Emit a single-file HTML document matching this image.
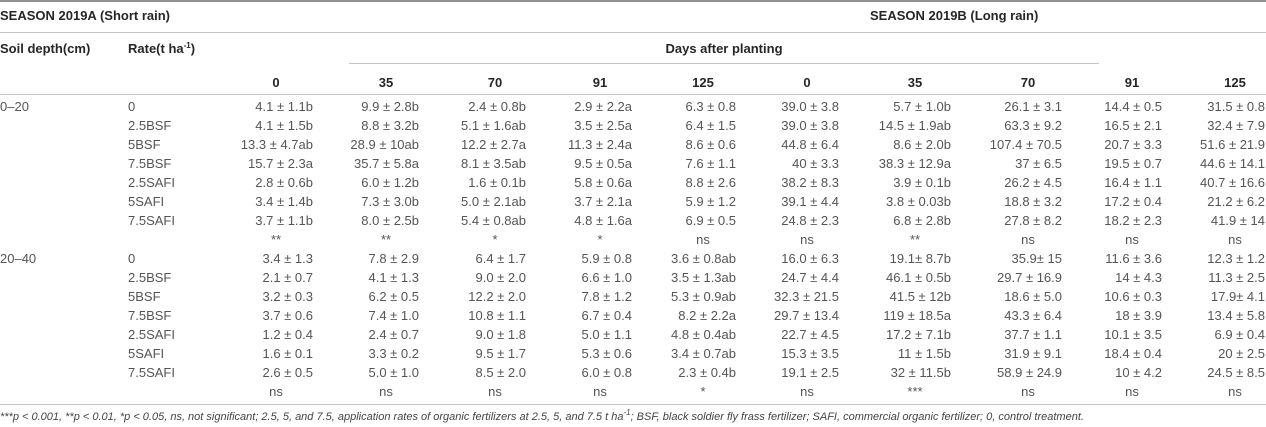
<!DOCTYPE html>
<html><head><meta charset="utf-8">
<style>
html,body{margin:0;padding:0}
body{width:1266px;height:427px;overflow:hidden;background:#fff;position:relative;font-family:"Liberation Sans",Arial,Helvetica,sans-serif}
.ln{position:absolute;left:0;width:1266px;height:1px;background:#c4c4c4}
.row{position:absolute;left:0;width:1266px;height:16px;font-size:13px;line-height:16px;color:#555}
.row span{position:absolute;top:0;white-space:nowrap}
.h{position:absolute;white-space:nowrap;font-size:13px;line-height:16px;font-weight:bold;color:#262626}
.hc{position:absolute;width:80px;text-align:center;font-size:13px;line-height:16px;font-weight:bold;color:#262626}
.d{left:0}.r{left:128px}
.c1{right:953px}.c2{right:847px}.c3{right:740px}.c4{right:634px}.c5{right:530px}
.c6{right:427px}.c7{right:315px}.c8{right:204px}.c9{right:104px}.c10{right:1px}
.s{width:80px;text-align:center}
.s1{left:236px}.s2{left:346px}.s3{left:455px}.s4{left:560px}.s5{left:663px}
.s6{left:767px}.s7{left:875px}.s8{left:988px}.s9{left:1092px}.s10{left:1195px}
.fn{position:absolute;left:0;top:410px;font-size:11px;line-height:14px;font-style:italic;color:#444;white-space:nowrap}
sup{font-size:8px;line-height:0;vertical-align:5px}
</style></head><body>

<div class="ln" style="top:0;height:2px;background:#8f8f8f"></div>
<div class="h" style="left:0;top:8px">SEASON 2019A (Short rain)</div>
<div class="h" style="left:870px;top:8px">SEASON 2019B (Long rain)</div>
<div class="ln" style="top:32px"></div>

<div class="h" style="left:0;top:41px">Soil depth(cm)</div>
<div class="h" style="left:128px;top:41px">Rate(t ha<sup>-1</sup>)</div>
<div class="h" style="left:524px;top:41px;width:400px;text-align:center">Days after planting</div>
<div class="ln" style="top:63px;left:349px;width:750px"></div>

<div class="hc" style="left:236px;top:75px">0</div>
<div class="hc" style="left:346px;top:75px">35</div>
<div class="hc" style="left:455px;top:75px">70</div>
<div class="hc" style="left:560px;top:75px">91</div>
<div class="hc" style="left:663px;top:75px">125</div>
<div class="hc" style="left:767px;top:75px">0</div>
<div class="hc" style="left:875px;top:75px">35</div>
<div class="hc" style="left:988px;top:75px">70</div>
<div class="hc" style="left:1092px;top:75px">91</div>
<div class="hc" style="left:1195px;top:75px">125</div>
<div class="ln" style="top:94px"></div>

<!-- 0-20 -->
<div class="row" style="top:99px"><span class="d">0–20</span><span class="r">0</span>
<span class="c1">4.1 ± 1.1b</span><span class="c2">9.9 ± 2.8b</span><span class="c3">2.4 ± 0.8b</span><span class="c4">2.9 ± 2.2a</span><span class="c5">6.3 ± 0.8</span><span class="c6">39.0 ± 3.8</span><span class="c7">5.7 ± 1.0b</span><span class="c8">26.1 ± 3.1</span><span class="c9">14.4 ± 0.5</span><span class="c10">31.5 ± 0.8</span></div>
<div class="row" style="top:118px"><span class="r">2.5BSF</span>
<span class="c1">4.1 ± 1.5b</span><span class="c2">8.8 ± 3.2b</span><span class="c3">5.1 ± 1.6ab</span><span class="c4">3.5 ± 2.5a</span><span class="c5">6.4 ± 1.5</span><span class="c6">39.0 ± 3.8</span><span class="c7">14.5 ± 1.9ab</span><span class="c8">63.3 ± 9.2</span><span class="c9">16.5 ± 2.1</span><span class="c10">32.4 ± 7.9</span></div>
<div class="row" style="top:137px"><span class="r">5BSF</span>
<span class="c1">13.3 ± 4.7ab</span><span class="c2">28.9 ± 10ab</span><span class="c3">12.2 ± 2.7a</span><span class="c4">11.3 ± 2.4a</span><span class="c5">8.6 ± 0.6</span><span class="c6">44.8 ± 6.4</span><span class="c7">8.6 ± 2.0b</span><span class="c8">107.4 ± 70.5</span><span class="c9">20.7 ± 3.3</span><span class="c10">51.6 ± 21.9</span></div>
<div class="row" style="top:156px"><span class="r">7.5BSF</span>
<span class="c1">15.7 ± 2.3a</span><span class="c2">35.7 ± 5.8a</span><span class="c3">8.1 ± 3.5ab</span><span class="c4">9.5 ± 0.5a</span><span class="c5">7.6 ± 1.1</span><span class="c6">40 ± 3.3</span><span class="c7">38.3 ± 12.9a</span><span class="c8">37 ± 6.5</span><span class="c9">19.5 ± 0.7</span><span class="c10">44.6 ± 14.1</span></div>
<div class="row" style="top:175px"><span class="r">2.5SAFI</span>
<span class="c1">2.8 ± 0.6b</span><span class="c2">6.0 ± 1.2b</span><span class="c3">1.6 ± 0.1b</span><span class="c4">5.8 ± 0.6a</span><span class="c5">8.8 ± 2.6</span><span class="c6">38.2 ± 8.3</span><span class="c7">3.9 ± 0.1b</span><span class="c8">26.2 ± 4.5</span><span class="c9">16.4 ± 1.1</span><span class="c10">40.7 ± 16.6</span></div>
<div class="row" style="top:194px"><span class="r">5SAFI</span>
<span class="c1">3.4 ± 1.4b</span><span class="c2">7.3 ± 3.0b</span><span class="c3">5.0 ± 2.1ab</span><span class="c4">3.7 ± 2.1a</span><span class="c5">5.9 ± 1.2</span><span class="c6">39.1 ± 4.4</span><span class="c7">3.8 ± 0.03b</span><span class="c8">18.8 ± 3.2</span><span class="c9">17.2 ± 0.4</span><span class="c10">21.2 ± 6.2</span></div>
<div class="row" style="top:213px"><span class="r">7.5SAFI</span>
<span class="c1">3.7 ± 1.1b</span><span class="c2">8.0 ± 2.5b</span><span class="c3">5.4 ± 0.8ab</span><span class="c4">4.8 ± 1.6a</span><span class="c5">6.9 ± 0.5</span><span class="c6">24.8 ± 2.3</span><span class="c7">6.8 ± 2.8b</span><span class="c8">27.8 ± 8.2</span><span class="c9">18.2 ± 2.3</span><span class="c10">41.9 ± 14</span></div>
<div class="row" style="top:232px">
<span class="s s1">**</span><span class="s s2">**</span><span class="s s3">*</span><span class="s s4">*</span><span class="s s5">ns</span><span class="s s6">ns</span><span class="s s7">**</span><span class="s s8">ns</span><span class="s s9">ns</span><span class="s s10">ns</span></div>

<!-- 20-40 -->
<div class="row" style="top:251px"><span class="d">20–40</span><span class="r">0</span>
<span class="c1">3.4 ± 1.3</span><span class="c2">7.8 ± 2.9</span><span class="c3">6.4 ± 1.7</span><span class="c4">5.9 ± 0.8</span><span class="c5">3.6 ± 0.8ab</span><span class="c6">16.0 ± 6.3</span><span class="c7">19.1± 8.7b</span><span class="c8">35.9± 15</span><span class="c9">11.6 ± 3.6</span><span class="c10">12.3 ± 1.2</span></div>
<div class="row" style="top:270px"><span class="r">2.5BSF</span>
<span class="c1">2.1 ± 0.7</span><span class="c2">4.1 ± 1.3</span><span class="c3">9.0 ± 2.0</span><span class="c4">6.6 ± 1.0</span><span class="c5">3.5 ± 1.3ab</span><span class="c6">24.7 ± 4.4</span><span class="c7">46.1 ± 0.5b</span><span class="c8">29.7 ± 16.9</span><span class="c9">14 ± 4.3</span><span class="c10">11.3 ± 2.5</span></div>
<div class="row" style="top:289px"><span class="r">5BSF</span>
<span class="c1">3.2 ± 0.3</span><span class="c2">6.2 ± 0.5</span><span class="c3">12.2 ± 2.0</span><span class="c4">7.8 ± 1.2</span><span class="c5">5.3 ± 0.9ab</span><span class="c6">32.3 ± 21.5</span><span class="c7">41.5 ± 12b</span><span class="c8">18.6 ± 5.0</span><span class="c9">10.6 ± 0.3</span><span class="c10">17.9± 4.1</span></div>
<div class="row" style="top:308px"><span class="r">7.5BSF</span>
<span class="c1">3.7 ± 0.6</span><span class="c2">7.4 ± 1.0</span><span class="c3">10.8 ± 1.1</span><span class="c4">6.7 ± 0.4</span><span class="c5">8.2 ± 2.2a</span><span class="c6">29.7 ± 13.4</span><span class="c7">119 ± 18.5a</span><span class="c8">43.3 ± 6.4</span><span class="c9">18 ± 3.9</span><span class="c10">13.4 ± 5.8</span></div>
<div class="row" style="top:327px"><span class="r">2.5SAFI</span>
<span class="c1">1.2 ± 0.4</span><span class="c2">2.4 ± 0.7</span><span class="c3">9.0 ± 1.8</span><span class="c4">5.0 ± 1.1</span><span class="c5">4.8 ± 0.4ab</span><span class="c6">22.7 ± 4.5</span><span class="c7">17.2 ± 7.1b</span><span class="c8">37.7 ± 1.1</span><span class="c9">10.1 ± 3.5</span><span class="c10">6.9 ± 0.4</span></div>
<div class="row" style="top:346px"><span class="r">5SAFI</span>
<span class="c1">1.6 ± 0.1</span><span class="c2">3.3 ± 0.2</span><span class="c3">9.5 ± 1.7</span><span class="c4">5.3 ± 0.6</span><span class="c5">3.4 ± 0.7ab</span><span class="c6">15.3 ± 3.5</span><span class="c7">11 ± 1.5b</span><span class="c8">31.9 ± 9.1</span><span class="c9">18.4 ± 0.4</span><span class="c10">20 ± 2.5</span></div>
<div class="row" style="top:365px"><span class="r">7.5SAFI</span>
<span class="c1">2.6 ± 0.5</span><span class="c2">5.0 ± 1.0</span><span class="c3">8.5 ± 2.0</span><span class="c4">6.0 ± 0.8</span><span class="c5">2.3 ± 0.4b</span><span class="c6">19.1 ± 2.5</span><span class="c7">32 ± 11.5b</span><span class="c8">58.9 ± 24.9</span><span class="c9">10 ± 4.2</span><span class="c10">24.5 ± 8.5</span></div>
<div class="row" style="top:384px">
<span class="s s1">ns</span><span class="s s2">ns</span><span class="s s3">ns</span><span class="s s4">ns</span><span class="s s5">*</span><span class="s s6">ns</span><span class="s s7">***</span><span class="s s8">ns</span><span class="s s9">ns</span><span class="s s10">ns</span></div>

<div class="ln" style="top:404px"></div>
<div class="fn">***p &lt; 0.001, **p &lt; 0.01, *p &lt; 0.05, ns, not significant; 2.5, 5, and 7.5, application rates of organic fertilizers at 2.5, 5, and 7.5 t ha<sup>-1</sup>; BSF, black soldier fly frass fertilizer; SAFI, commercial organic fertilizer; 0, control treatment.</div>

</body></html>
